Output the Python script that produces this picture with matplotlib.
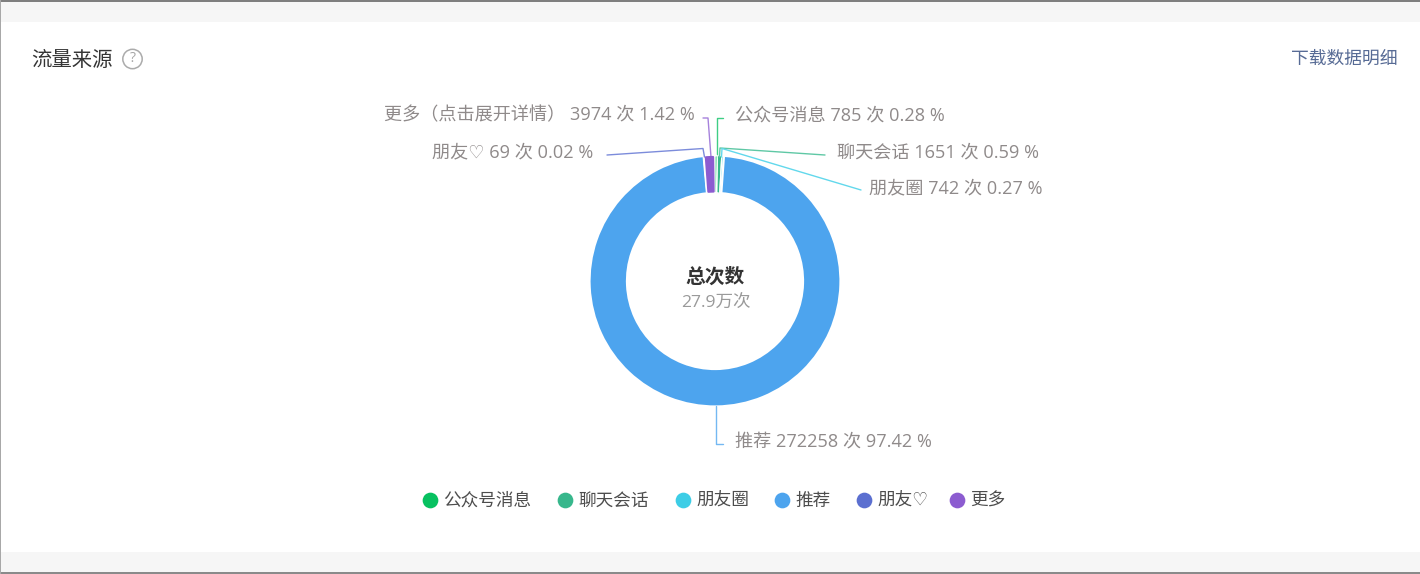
import matplotlib
matplotlib.use("Agg")
import matplotlib.pyplot as plt
from matplotlib.patches import Rectangle, Circle, Wedge

plt.rcParams['font.family'] = ['Open Sans', 'DejaVu Sans', 'Noto Sans CJK SC']

W, H = 1420, 574
categories = ['公众号消息', '聊天会话', '朋友圈', '推荐', '朋友♡', '更多']
label_names = ['公众号消息', '聊天会话', '朋友圈', '推荐', '朋友♡', '更多（点击展开详情）']
counts = [785, 1651, 742, 272258, 69, 3974]
percents = ['0.28', '0.59', '0.27', '97.42', '0.02', '1.42']
colors = ['#07c160', '#37b78c', '#3dcde6', '#4da4ee', '#5b6fd0', '#8c5cd0']
line_colors = ['#3fce85', '#5fc8a5', '#62d8ec', '#74b8f2', '#7c8cdb', '#a682dc']
total_text = '27.9万次'

def Y(y):
    return H - y

fig = plt.figure(figsize=(W / 100, H / 100), dpi=100, facecolor='white')
ax = fig.add_axes([0, 0, 1, 1])

wedges, _ = ax.pie(counts, colors=colors, startangle=90, counterclock=False,
                   center=(715, Y(281)), radius=125.5,
                   wedgeprops=dict(width=37.5, edgecolor='white', linewidth=1.0))
wedges[3].set_linewidth(1.6)
wedges[0].set_zorder(3)
# purple slice: same angles as the pie gives it, inset a little with rounded corners
p = wedges[5]
p.set_visible(False)
ax.add_patch(Wedge(p.center, p.r - 1.5, p.theta1 + 0.9, p.theta2 - 0.9, width=p.width - 3,
                   fc=colors[5], ec=colors[5], lw=1.6, joinstyle='round', zorder=3))

ax.set_xlim(0, W)
ax.set_ylim(0, H)
ax.set_aspect('auto')
ax.axis('off')

# page frame
ax.add_patch(Rectangle((0, Y(22)), W, 22, fc='#f6f6f6', ec='none', zorder=0))
ax.add_patch(Rectangle((0, Y(572)), W, 20, fc='#f6f6f6', ec='none', zorder=0))
ax.add_patch(Rectangle((0, Y(1.5)), W, 1.5, fc='#7f7f7f', ec='none', zorder=0))
ax.add_patch(Rectangle((0, 0), W, 1.8, fc='#8a8a8a', ec='none', zorder=0))
ax.add_patch(Rectangle((0, 0), 1.2, H, fc='#a8a8a8', ec='none', zorder=0))

# header
ax.text(31.5, Y(65.5), '流量来源', fontsize=14.7, color='#353535', va='baseline', ha='left')
ax.add_patch(Circle((132.5, Y(59)), 9.7, fc='white', ec='#ababab', lw=1.1))
ax.text(132.5, Y(59), '?', fontsize=10, color='#a5a5a5', va='center', ha='center')
ax.text(1397, Y(63.5), '下载数据明细', fontsize=12.8, color='#576b95', va='baseline', ha='right')

# centre
ax.text(715.5, Y(283), '总次数', fontsize=14.2, fontweight='bold', color='#333333', va='baseline', ha='center')
ax.text(715.5, Y(307.5), total_text, fontsize=12.6, color='#9a9a9a', va='baseline', ha='center')

# outer labels and leader lines
label_anchor = [(735, 120, 'left'), (837, 157.3, 'left'), (869, 193.3, 'left'),
                (735, 446.5, 'left'), (593, 157.3, 'right'), (695, 120, 'right')]
leaders = [
    [(723, 118), (716.5, 118), (716.5, 157)],
    [(825, 155), (720, 148), (719.5, 157)],
    [(861, 190), (722, 148.5), (721.5, 157)],
    [(716, 406), (716, 444), (723, 444)],
    [(607, 155), (703, 148.5), (704.5, 157)],
    [(703, 118), (708, 118), (711, 157)],
]
for name, cnt, pct, (lx, ly, ha), pts, lc in zip(label_names, counts, percents, label_anchor, leaders, line_colors):
    ax.text(lx, Y(ly), f'{name} {cnt} 次 {pct} %', fontsize=13.05, color='#8f8a8a', va='baseline', ha=ha)
    ax.plot([p_[0] for p_ in pts], [Y(p_[1]) for p_ in pts], color=lc, lw=1.0,
            solid_joinstyle='round', solid_capstyle='round', zorder=1)

# legend
legend_x = [430, 565, 683, 782, 864, 957]
for x, name, c in zip(legend_x, categories, colors):
    ax.plot([x], [Y(500)], 'o', ms=11.3, color=c, mec='none')
    ax.text(x + 13, Y(506), name, fontsize=12.7, color='#4d4d4d', va='baseline', ha='left')

fig.savefig('out.png', dpi=100, facecolor='white')
